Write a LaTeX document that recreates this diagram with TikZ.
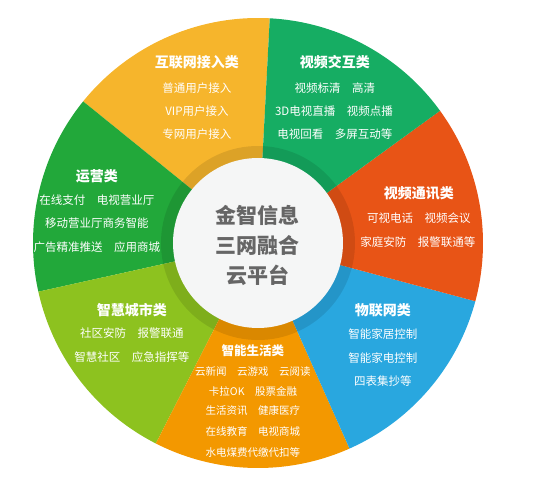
\documentclass[tikz,border=0pt]{standalone}
\usepackage{fontspec}
\setmainfont{Noto Sans CJK SC}
\usepackage{tikz}
\usepackage{xcolor}

\definecolor{netyellow}{RGB}{246,181,44}
\definecolor{videogreen}{RGB}{22,173,99}
\definecolor{callred}{RGB}{232,84,22}
\definecolor{iotblue}{RGB}{41,167,223}
\definecolor{lifeorange}{RGB}{243,152,0}
\definecolor{citygreen}{RGB}{141,194,31}
\definecolor{opgreen}{RGB}{34,168,58}
\definecolor{hubfill}{RGB}{245,246,246}
\definecolor{hubtext}{RGB}{102,102,102}

\begin{document}
\begin{tikzpicture}[x=1pt,y=1pt,
  cat/.style={text=white,font=\fontsize{14}{16}\selectfont\bfseries,inner sep=0pt},
  item/.style={text=white,font=\fontsize{11.5}{13}\selectfont,inner sep=0pt},
  smallcat/.style={text=white,font=\fontsize{12.5}{14}\selectfont\bfseries,inner sep=0pt},
  smallitem/.style={text=white,font=\fontsize{10.5}{12}\selectfont,inner sep=0pt},
  hub/.style={text=hubtext,font=\fontsize{21}{24}\selectfont\bfseries,inner sep=0pt}]
\useasboundingbox (-258,243) rectangle (292,-239);
% sectors
\fill[netyellow] (0,0) -- (87:225pt) arc[start angle=87,end angle=141,radius=225pt] -- cycle;
\fill[opgreen] (0,0) -- (141:225pt) arc[start angle=141,end angle=192.5,radius=225pt] -- cycle;
\fill[citygreen] (0,0) -- (192.5:225pt) arc[start angle=192.5,end angle=243,radius=225pt] -- cycle;
\fill[lifeorange] (0,0) -- (243:225pt) arc[start angle=243,end angle=294,radius=225pt] -- cycle;
\fill[iotblue] (0,0) -- (294:225pt) arc[start angle=294,end angle=345,radius=225pt] -- cycle;
\fill[callred] (0,0) -- (345:225pt) arc[start angle=345,end angle=396,radius=225pt] -- cycle;
\fill[videogreen] (0,0) -- (36:225pt) arc[start angle=36,end angle=87,radius=225pt] -- cycle;
% hub
\fill[black,opacity=0.1] (0,0) circle[radius=97pt];
\fill[hubfill] (0,0) circle[radius=85pt];
\node[hub] (hub-1) at (0,28) {金智信息};
\node[hub] (hub-2) at (0,-2) {三网融合};
\node[hub] (hub-3) at (0,-32) {云平台};
% 互联网接入类
\node[cat] (net-t) at (-61,181) {互联网接入类};
\node[item] (net-1) at (-61,155) {普通用户接入};
\node[item] (net-2) at (-61,132) {VIP用户接入};
\node[item] (net-3) at (-61,109) {专网用户接入};
% 视频交互类
\node[cat] (video-t) at (77,181) {视频交互类};
\node[item] (video-1) at (77,155) {视频标清\quad 高清};
\node[item] (video-2) at (76,132) {3D电视直播\quad 视频点播};
\node[item] (video-3) at (77,109) {电视回看\quad 多屏互动等};
% 视频通讯类
\node[cat] (call-t) at (161,50) {视频通讯类};
\node[item] (call-1) at (161,25) {可视电话\quad 视频会议};
\node[item] (call-2) at (160,1) {家庭安防\quad 报警联通等};
% 物联网类
\node[cat] (iot-t) at (125,-67) {物联网类};
\node[item] (iot-1) at (125,-91) {智能家居控制};
\node[item] (iot-2) at (125,-115) {智能家电控制};
\node[item] (iot-3) at (125,-138) {四表集抄等};
% 智能生活类
\node[smallcat] (life-t) at (-5,-108) {智能生活类};
\node[smallitem] (life-1) at (-5,-129) {云新闻\quad 云游戏\quad 云阅读};
\node[smallitem] (life-2) at (-5,-148) {卡拉OK\quad 股票金融};
\node[smallitem] (life-3) at (-5,-168) {生活资讯\quad 健康医疗};
\node[smallitem] (life-4) at (-5,-188) {在线教育\quad 电视商城};
\node[smallitem] (life-5) at (-5,-209) {水电煤费代缴代扣等};
% 智慧城市类
\node[cat] (city-t) at (-126,-67) {智慧城市类};
\node[item] (city-1) at (-126,-90) {社区安防\quad 报警联通};
\node[item] (city-2) at (-126,-114) {智慧社区\quad 应急指挥等};
% 运营类
\node[cat] (op-t) at (-161,67) {运营类};
\node[item] (op-1) at (-161,43) {在线支付\quad 电视营业厅};
\node[item] (op-2) at (-161,20) {移动营业厅商务智能};
\node[item] (op-3) at (-161,-4) {广告精准推送\quad 应用商城};
\end{tikzpicture}
\end{document}
